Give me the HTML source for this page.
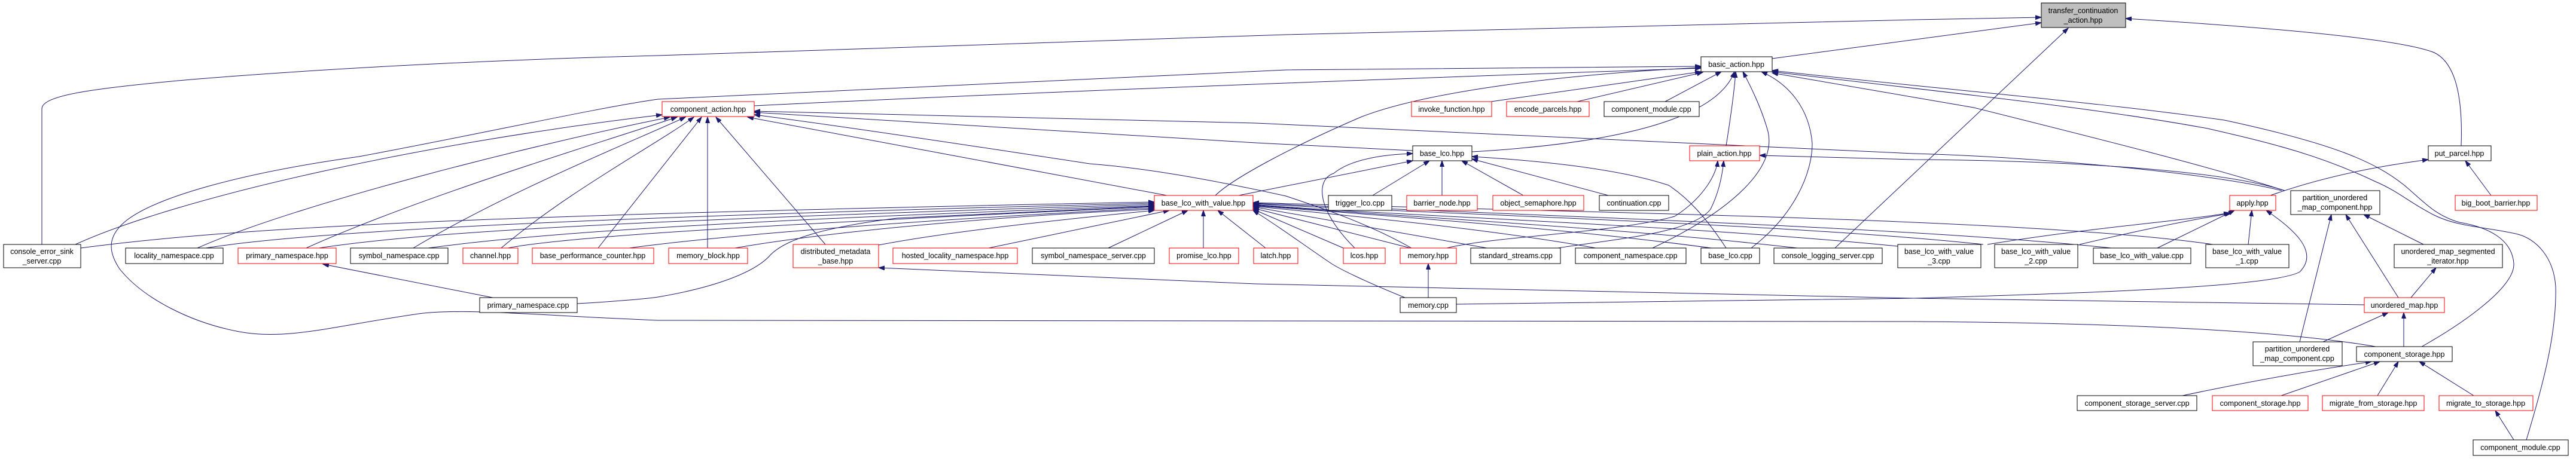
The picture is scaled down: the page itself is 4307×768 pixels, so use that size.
<!DOCTYPE html>
<html><head><meta charset="utf-8"><style>
html,body{margin:0;padding:0;background:#fff;}
svg{display:block;}
text{font-family:"Liberation Sans",Arial,sans-serif;font-size:12.5px;fill:#000;text-anchor:middle;}
.e{fill:none;stroke:#191970;stroke-width:1;}
.b{fill:#fff;stroke:#000;stroke-width:1;}
.r{fill:#fff;stroke:#ff0000;stroke-width:1;}
.g{fill:#bfbfbf;stroke:#000;stroke-width:1;}
</style></head><body>
<svg width="4307" height="768" xmlns="http://www.w3.org/2000/svg">
<defs><marker id="a" markerUnits="userSpaceOnUse" markerWidth="11" markerHeight="8" refX="10" refY="3.5" orient="auto"><path d="M0,0 L10,3.5 L0,7 z" fill="#191970" stroke="#191970"/></marker></defs>
<g class="e" marker-end="url(#a)">
<path d="M70,409 L70,182 C70,160 150,148 320,133 C600,110 900,98 1100,93 L2150,58 L3200,33 L3413,29"/>
<path d="M2963,98 L3413,38"/>
<path d="M3068,415 L3458,47"/>
<path d="M4115,244 C4118,160 4105,105 4070,88 C4000,60 3700,40 3554,31"/>
<path d="M1261,177 Q1800,150 2844,114"/>
<path d="M3972,580 C3800,550 3500,540 3200,538 L1100,536 C900,528 780,515 700,525 C560,545 480,570 400,555 C320,540 240,500 200,450 C180,420 180,395 210,370 C260,330 400,290 600,262 C800,225 1000,180 1100,166 L2150,117 L2844,111"/>
<path d="M2032,327 C2060,300 2150,250 2275,196 C2380,155 2600,125 2844,113"/>
<path d="M2493,170 L2844,120"/>
<path d="M2637,170 L2847,121"/>
<path d="M2784,170 L2878,120"/>
<path d="M2461,254 C2700,240 2870,200 2900,120"/>
<path d="M2886,244 C2893,200 2900,150 2902,120"/>
<path d="M2763,415 C2900,350 2970,280 2956,220 C2945,180 2925,140 2914,120"/>
<path d="M2928,415 C3000,360 3030,290 3030,240 C3025,180 2990,140 2945,120"/>
<path d="M4049,580 C4120,540 4205,480 4203,441 C4200,400 4160,380 4112,372 C4070,360 4050,335 4020,310 C3970,270 3900,240 3719,201 C3500,170 3300,155 2963,118"/>
<path d="M4224,736 C4250,650 4275,560 4273,480 C4270,430 4240,400 4210,392 C4160,380 4110,380 4070,360 C4030,340 4010,320 3972,304 C3880,260 3800,240 3691,215 C3500,180 3300,160 2963,120"/>
<path d="M3820,319 C3700,280 3500,230 3300,180 L2963,122"/>
<path d="M3815,319 C3700,290 3400,262 3200,257 L2100,206 L1261,186"/>
<path d="M2362,252 L2100,239 L1261,188"/>
<path d="M2360,415 C2280,370 2200,345 2150,328 C2000,295 1900,280 1822,274 C1600,240 1400,210 1261,192"/>
<path d="M1951,327 L1250,196"/>
<path d="M1380,409 L1197,196"/>
<path d="M1183,415 L1183,196"/>
<path d="M126,409 C300,330 700,240 1107,192"/>
<path d="M330,415 C500,340 900,240 1120,196"/>
<path d="M512,415 C700,330 1000,240 1132,196"/>
<path d="M691,415 C850,320 1050,240 1146,196"/>
<path d="M838,415 C950,320 1100,240 1160,196"/>
<path d="M1000,415 L1173,196"/>
<path d="M135,415 C400,380 800,360 1930,338"/>
<path d="M344,415 C500,390 900,365 1930,340"/>
<path d="M533,415 C700,390 1000,370 1930,342"/>
<path d="M716,415 C900,390 1200,370 1930,344"/>
<path d="M849,415 C950,395 1300,375 1930,346"/>
<path d="M1052,415 C1200,395 1500,370 1930,348"/>
<path d="M1229,415 C1400,385 1700,360 1930,350"/>
<path d="M1469,410 C1600,385 1800,365 1930,352"/>
<path d="M965,508 C1020,505 1080,500 1100,497 C1200,480 1260,455 1285,430 C1310,400 1380,380 1500,365 L1930,345"/>
<path d="M1653,415 L1955,352"/>
<path d="M1853,415 L1986,352"/>
<path d="M2012,415 L2012,352"/>
<path d="M2116,415 L2036,352"/>
<path d="M824,498 L540,442"/>
<path d="M3953,510 L3200,499 L2100,475 L1469,448"/>
<path d="M2246,415 L2095,350"/>
<path d="M2358,415 L2095,348"/>
<path d="M2486,415 L2095,346"/>
<path d="M2668,415 C2500,385 2300,365 2095,345"/>
<path d="M2861,415 C2600,380 2300,360 2095,344"/>
<path d="M3005,415 C2700,380 2300,360 2095,343"/>
<path d="M3173,412 C2800,375 2300,360 2095,342"/>
<path d="M3316,409 C3000,375 2400,358 2095,341"/>
<path d="M3530,415 C3200,380 2500,358 2095,340"/>
<path d="M3700,409 C3400,365 2600,355 2095,339"/>
<path d="M2349,498 C2280,470 2240,450 2226,441 C2180,410 2140,380 2095,352"/>
<path d="M2388,498 L2388,441"/>
<path d="M2435,509 L3200,499 C3500,490 3800,480 3845,455 C3880,420 3830,380 3789,352"/>
<path d="M2071,327 L2362,269"/>
<path d="M2265,415 C2200,350 2200,300 2230,290 C2260,265 2320,258 2362,257"/>
<path d="M2295,327 L2390,269"/>
<path d="M2411,327 L2411,269"/>
<path d="M2547,327 L2444,269"/>
<path d="M2689,327 L2461,266"/>
<path d="M2886,415 C2850,360 2820,330 2790,310 C2700,280 2560,268 2461,262"/>
<path d="M2419,415 C2500,395 2700,390 2800,362 C2850,330 2870,290 2872,269"/>
<path d="M2605,415 C2700,400 2830,390 2860,350 C2875,320 2880,290 2882,269"/>
<path d="M3820,319 C3700,280 3400,268 3200,267 L2942,260"/>
<path d="M3796,327 C3900,290 4000,275 4060,267"/>
<path d="M4165,327 L4122,269"/>
<path d="M3323,409 C3500,380 3650,370 3728,356"/>
<path d="M3477,409 C3600,380 3680,365 3730,357"/>
<path d="M3607,415 L3736,352"/>
<path d="M3759,409 L3765,352"/>
<path d="M3845,572 L3898,359"/>
<path d="M4010,498 L3922,359"/>
<path d="M4052,409 L3952,359"/>
<path d="M4031,498 L4073,448"/>
<path d="M3884,572 L3993,523"/>
<path d="M4019,580 L4019,523"/>
<path d="M3649,662 C3800,630 3900,615 3965,605"/>
<path d="M3814,662 L3979,605"/>
<path d="M3975,662 L4010,605"/>
<path d="M4136,662 L4045,605"/>
<path d="M4203,736 L4172,687"/>
</g>
<g>
<rect class="g" x="3413" y="5" width="141" height="41"/><text x="3483" y="22">transfer_continuation</text><text x="3483" y="38">_action.hpp</text>
<rect class="b" x="2844" y="95" width="119" height="25"/><text x="2903" y="112">basic_action.hpp</text>
<rect class="r" x="1107" y="170" width="154" height="25"/><text x="1184" y="187">component_action.hpp</text>
<rect class="r" x="2360" y="170" width="134" height="25"/><text x="2427" y="187">invoke_function.hpp</text>
<rect class="r" x="2519" y="170" width="138" height="25"/><text x="2588" y="187">encode_parcels.hpp</text>
<rect class="b" x="2682" y="170" width="159" height="25"/><text x="2761" y="187">component_module.cpp</text>
<rect class="b" x="2362" y="244" width="99" height="25"/><text x="2411" y="261">base_lco.hpp</text>
<rect class="r" x="2825" y="244" width="117" height="25"/><text x="2883" y="261">plain_action.hpp</text>
<rect class="b" x="4060" y="244" width="105" height="25"/><text x="4112" y="261">put_parcel.hpp</text>
<rect class="r" x="1930" y="327" width="165" height="25"/><text x="2012" y="344">base_lco_with_value.hpp</text>
<rect class="b" x="2221" y="327" width="106" height="25"/><text x="2274" y="344">trigger_lco.cpp</text>
<rect class="r" x="2352" y="327" width="118" height="25"/><text x="2411" y="344">barrier_node.hpp</text>
<rect class="r" x="2496" y="327" width="152" height="25"/><text x="2572" y="344">object_semaphore.hpp</text>
<rect class="b" x="2674" y="327" width="116" height="25"/><text x="2732" y="344">continuation.cpp</text>
<rect class="r" x="3728" y="327" width="77" height="25"/><text x="3766" y="344">apply.hpp</text>
<rect class="b" x="3830" y="319" width="149" height="40"/><text x="3904" y="335">partition_unordered</text><text x="3904" y="351">_map_component.hpp</text>
<rect class="r" x="4105" y="327" width="137" height="25"/><text x="4173" y="344">big_boot_barrier.hpp</text>
<rect class="b" x="6" y="409" width="129" height="39"/><text x="70" y="425">console_error_sink</text><text x="70" y="441">_server.cpp</text>
<rect class="b" x="210" y="415" width="163" height="26"/><text x="291" y="432">locality_namespace.cpp</text>
<rect class="r" x="398" y="415" width="164" height="26"/><text x="480" y="432">primary_namespace.hpp</text>
<rect class="b" x="586" y="415" width="163" height="26"/><text x="667" y="432">symbol_namespace.cpp</text>
<rect class="r" x="774" y="415" width="92" height="26"/><text x="820" y="432">channel.hpp</text>
<rect class="r" x="890" y="415" width="203" height="26"/><text x="991" y="432">base_performance_counter.hpp</text>
<rect class="r" x="1118" y="415" width="132" height="26"/><text x="1184" y="432">memory_block.hpp</text>
<rect class="r" x="1326" y="409" width="143" height="39"/><text x="1397" y="425">distributed_metadata</text><text x="1397" y="441">_base.hpp</text>
<rect class="r" x="1493" y="415" width="208" height="26"/><text x="1597" y="432">hosted_locality_namespace.hpp</text>
<rect class="b" x="1726" y="415" width="204" height="26"/><text x="1828" y="432">symbol_namespace_server.cpp</text>
<rect class="r" x="1955" y="415" width="116" height="26"/><text x="2013" y="432">promise_lco.hpp</text>
<rect class="r" x="2096" y="415" width="74" height="26"/><text x="2133" y="432">latch.hpp</text>
<rect class="r" x="2246" y="415" width="70" height="26"/><text x="2281" y="432">lcos.hpp</text>
<rect class="r" x="2341" y="415" width="94" height="26"/><text x="2388" y="432">memory.hpp</text>
<rect class="b" x="2459" y="415" width="150" height="26"/><text x="2534" y="432">standard_streams.cpp</text>
<rect class="b" x="2634" y="415" width="185" height="26"/><text x="2726" y="432">component_namespace.cpp</text>
<rect class="b" x="2844" y="415" width="98" height="26"/><text x="2893" y="432">base_lco.cpp</text>
<rect class="b" x="2966" y="415" width="181" height="26"/><text x="3056" y="432">console_logging_server.cpp</text>
<rect class="b" x="3173" y="409" width="139" height="39"/><text x="3242" y="425">base_lco_with_value</text><text x="3242" y="441">_3.cpp</text>
<rect class="b" x="3335" y="409" width="139" height="39"/><text x="3404" y="425">base_lco_with_value</text><text x="3404" y="441">_2.cpp</text>
<rect class="b" x="3500" y="415" width="163" height="26"/><text x="3581" y="432">base_lco_with_value.cpp</text>
<rect class="b" x="3688" y="409" width="139" height="39"/><text x="3757" y="425">base_lco_with_value</text><text x="3757" y="441">_1.cpp</text>
<rect class="b" x="4003" y="409" width="181" height="39"/><text x="4093" y="425">unordered_map_segmented</text><text x="4093" y="441">_iterator.hpp</text>
<rect class="b" x="802" y="498" width="163" height="25"/><text x="883" y="515">primary_namespace.cpp</text>
<rect class="b" x="2341" y="498" width="94" height="25"/><text x="2388" y="515">memory.cpp</text>
<rect class="r" x="3953" y="498" width="134" height="25"/><text x="4020" y="515">unordered_map.hpp</text>
<rect class="b" x="3767" y="572" width="149" height="40"/><text x="3841" y="588">partition_unordered</text><text x="3841" y="604">_map_component.cpp</text>
<rect class="b" x="3940" y="580" width="160" height="25"/><text x="4020" y="597">component_storage.hpp</text>
<rect class="b" x="3473" y="662" width="200" height="25"/><text x="3573" y="679">component_storage_server.cpp</text>
<rect class="r" x="3699" y="662" width="160" height="25"/><text x="3779" y="679">component_storage.hpp</text>
<rect class="r" x="3883" y="662" width="170" height="25"/><text x="3968" y="679">migrate_from_storage.hpp</text>
<rect class="r" x="4078" y="662" width="157" height="25"/><text x="4156" y="679">migrate_to_storage.hpp</text>
<rect class="b" x="4135" y="736" width="159" height="26"/><text x="4214" y="753">component_module.cpp</text>
</g>
</svg>
</body></html>
